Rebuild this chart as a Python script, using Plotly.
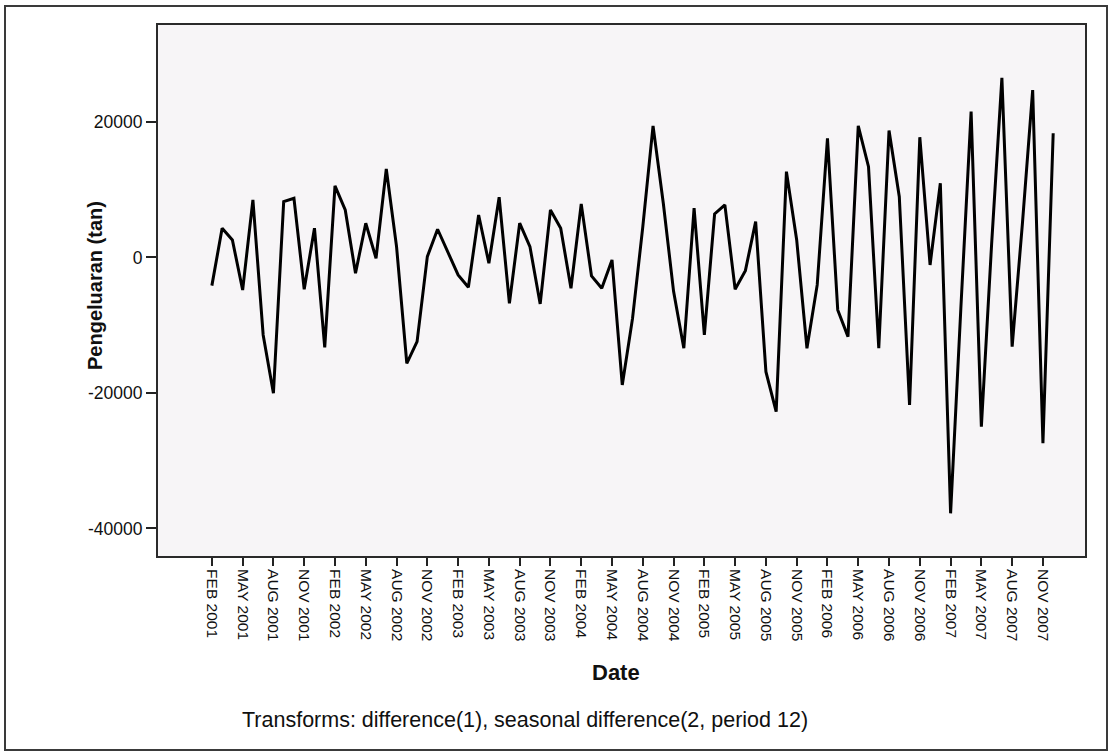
import plotly.graph_objects as go
import pandas as pd

# Monthly series, FEB 2001 .. DEC 2007 (after differencing)
months = pd.date_range("2001-02-01", "2007-12-01", freq="MS")
month_names = [d.strftime("%b %Y").upper() for d in months]

pengeluaran = [
    # 2001 (FEB-DEC)
    -4160, 4310, 2580, -4800, 8490, -11440, -20040, 8240, 8730, -4700, 4310,
    # 2002
    -13260, 10550, 7010, -2330, 5050, -120, 13060, 1600, -15620, -12430, 120, 4160,
    # 2003
    860, -2580, -4400, 6270, -860, 8880, -6770, 5050, 1600, -6860, 7010, 4310,
    # 2004
    -4550, 7900, -2730, -4550, -370, -18820, -9000, 4500, 19410, 8000, -5000, -13400,
    # 2005
    7260, -11440, 6420, 7750, -4700, -1950, 5290, -16860, -22760, 12660, 2580, -13400,
    # 2006
    -4060, 17590, -7750, -11690, 19410, 13400, -13400, 18720, 8970, -21770, 17740, -1110,
    # 2007
    10950, -37760, -7500, 21520, -24970, 2000, 26500, -13170, 5000, 24700, -27430, 18330,
]

tick_labels = [
    "FEB 2001", "MAY 2001", "AUG 2001", "NOV 2001",
    "FEB 2002", "MAY 2002", "AUG 2002", "NOV 2002",
    "FEB 2003", "MAY 2003", "AUG 2003", "NOV 2003",
    "FEB 2004", "MAY 2004", "AUG 2004", "NOV 2004",
    "FEB 2005", "MAY 2005", "AUG 2005", "NOV 2005",
    "FEB 2006", "MAY 2006", "AUG 2006", "NOV 2006",
    "FEB 2007", "MAY 2007", "AUG 2007", "NOV 2007",
]
y_ticks = [-40000, -20000, 0, 20000]

x_idx = list(range(len(pengeluaran)))
tick_pos = [month_names.index(lbl) for lbl in tick_labels]

# page and plot-box geometry (pixels)
W, H = 1112, 753
L, R, T, B = 158, 1085, 25, 556


def px(x):
    return (x - L) / (R - L)


def py(y):
    return (B - y) / (B - T)


FONT = "Liberation Sans, Arial, Helvetica, sans-serif"
INK = "#101010"

fig = go.Figure(
    go.Scatter(
        x=x_idx,
        y=pengeluaran,
        mode="lines",
        line=dict(color="#000000", width=3),
        text=month_names,
        hovertemplate="%{text}: %{y}<extra></extra>",
    )
)

fig.update_layout(
    width=W,
    height=H,
    margin=dict(l=L, r=W - R, t=T, b=H - B, pad=0),
    paper_bgcolor="#ffffff",
    plot_bgcolor="#f7f5f7",
    showlegend=False,
    font=dict(family=FONT, color=INK),
    xaxis=dict(
        range=[-5.25, 85.1],
        tickmode="array",
        tickvals=tick_pos,
        ticktext=tick_labels,
        tickangle=90,
        ticks="outside",
        ticklen=8,
        tickwidth=1.5,
        tickcolor="#222222",
        tickfont=dict(size=15.5, family=FONT, color=INK),
        showgrid=False,
        zeroline=False,
        showline=True,
        mirror=True,
        linecolor="#2a2a2a",
        linewidth=2,
    ),
    yaxis=dict(
        range=[-44060, 34300],
        tickmode="array",
        tickvals=y_ticks,
        ticktext=[str(v) for v in y_ticks],
        ticks="outside",
        ticklen=10,
        tickwidth=1.5,
        tickcolor="#222222",
        tickfont=dict(size=17.5, family=FONT, color=INK),
        showgrid=False,
        zeroline=False,
        showline=True,
        mirror=True,
        linecolor="#2a2a2a",
        linewidth=2,
    ),
    annotations=[
        dict(
            text="Pengeluaran (tan)",
            x=px(95), y=py(286), xref="paper", yref="paper",
            xanchor="center", yanchor="middle",
            textangle=-90, showarrow=False,
            font=dict(size=20, family=FONT, color=INK, weight="bold"),
        ),
        dict(
            text="Date",
            x=px(616), y=py(672), xref="paper", yref="paper",
            xanchor="center", yanchor="middle",
            showarrow=False,
            font=dict(size=22, family=FONT, color=INK, weight="bold"),
        ),
        dict(
            text="Transforms: difference(1), seasonal difference(2, period 12)",
            x=px(525), y=py(720), xref="paper", yref="paper",
            xanchor="center", yanchor="middle",
            showarrow=False,
            font=dict(size=21.5, family=FONT, color=INK),
        ),
    ],
    shapes=[
        dict(
            type="rect", xref="paper", yref="paper",
            x0=px(5), x1=px(1107), y0=py(750), y1=py(6),
            line=dict(color="#3a3a3a", width=2),
            fillcolor="rgba(0,0,0,0)", layer="below",
        )
    ],
)

fig.write_html("out.html")
